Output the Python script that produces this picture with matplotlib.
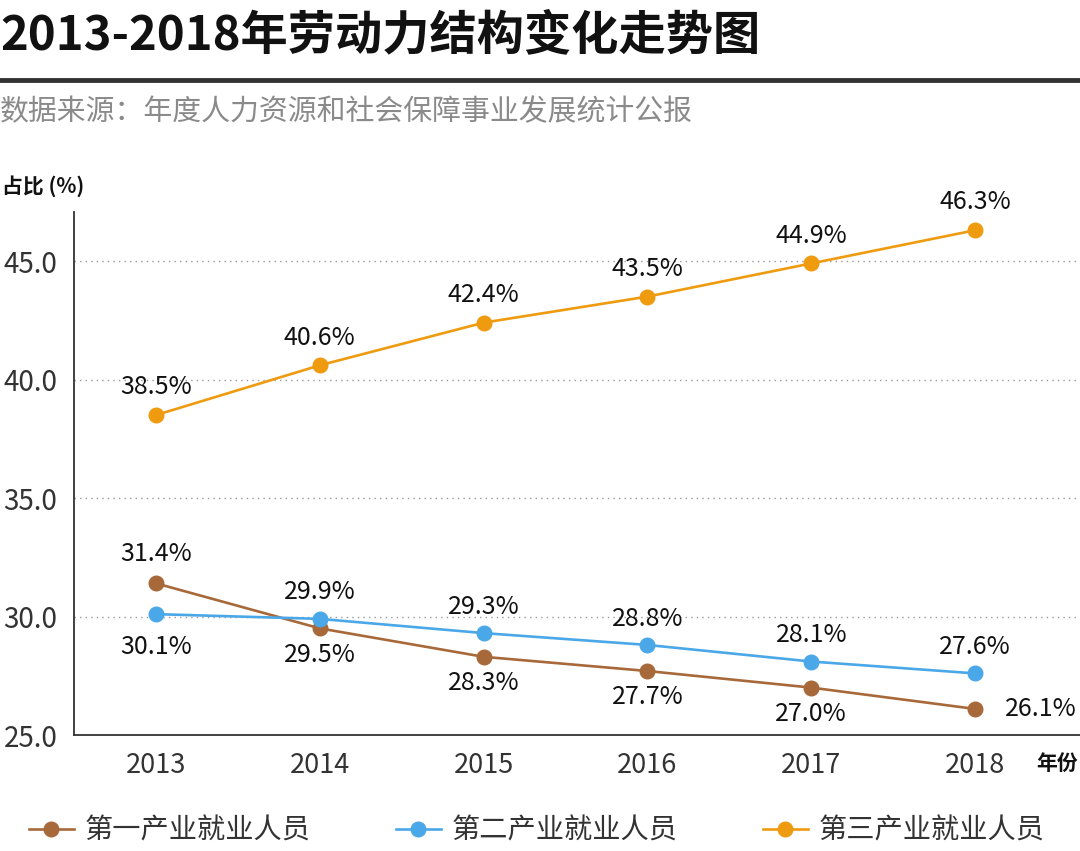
import matplotlib
matplotlib.use('Agg')
import matplotlib.pyplot as plt

plt.rcParams['font.family'] = ['Noto Sans CJK SC', 'DejaVu Sans']

# data
years = [2013, 2014, 2015, 2016, 2017, 2018]
primary = [31.4, 29.5, 28.3, 27.7, 27.0, 26.1]
secondary = [30.1, 29.9, 29.3, 28.8, 28.1, 27.6]
tertiary = [38.5, 40.6, 42.4, 43.5, 44.9, 46.3]
names = ['第一产业就业人员', '第二产业就业人员', '第三产业就业人员']
yticks = [25, 30, 35, 40, 45]

colors = ['#A8693A', '#4BA8E8', '#EF9B10']

fig = plt.figure(figsize=(10.8, 8.51), dpi=100)
ax = fig.add_axes([74 / 1080, 116 / 851, 1 - 74 / 1080, (735 - 212) / 851])

lines = []
for vals, c, n in zip([primary, secondary, tertiary], colors, names):
    ln, = ax.plot(years, vals, color=c, lw=1.9, marker='o', ms=10.5,
                  label=n, zorder=3)
    lines.append(ln)

# value labels
def label(x, y, dx, dy, ha='center'):
    ax.annotate(f'{y:.1f}%', (x, y), xytext=(dx, dy), textcoords='offset points',
                ha=ha, va='center', fontsize=18, color='#111111')

for i, (x, y) in enumerate(zip(years, tertiary)):
    label(x, y, 0, 20)
for i, (x, y) in enumerate(zip(years, primary)):
    if i == 0:
        label(x, y, 0, 21)
    elif i == len(years) - 1:
        label(x, y, 47, 0)
    else:
        label(x, y, 0, -19)
for i, (x, y) in enumerate(zip(years, secondary)):
    if i == 0:
        label(x, y, 0, -24)
    else:
        label(x, y, 0, 19)

ax.set_xlim(2012.5, 2018.64)
ax.set_ylim(25, 47.07)
ax.set_xticks(years)
ax.set_yticks(yticks)
ax.set_yticklabels([f'{v:.1f}' for v in yticks])
ax.tick_params(axis='x', length=0, labelsize=19.5, labelcolor='#333333', pad=12)
ax.tick_params(axis='y', length=0, labelsize=20, labelcolor='#333333', pad=12)
for v in yticks[1:]:
    ax.axhline(v, color='#999999', lw=1, ls=(0, (1, 3)), zorder=1)
ax.spines['top'].set_visible(False)
ax.spines['right'].set_visible(False)
for s in ['left', 'bottom']:
    ax.spines[s].set_color('#333333')
    ax.spines[s].set_linewidth(1.3)

# titles and annotations
fig.text(0.0, 1 - 35 / 851, '2013-2018年劳动力结构变化走势图', fontsize=34,
         fontweight='bold', va='center', ha='left', color='#111111')
fig.add_artist(plt.Line2D([0, 1], [1 - 80 / 851, 1 - 80 / 851], color='#333333', lw=3.5))
fig.text(0.0, 1 - 112 / 851, '数据来源：年度人力资源和社会保障事业发展统计公报', fontsize=20.8,
         va='center', ha='left', color='#8a8a8a')
fig.text(0.002, 1 - 186 / 851, '占比 (%)', fontsize=15, fontweight='bold',
         va='center', ha='left', color='#111111')
fig.text(1 - 2 / 1080, 1 - 763 / 851, '年份', fontsize=15, fontweight='bold',
         va='center', ha='right', color='#111111')

fig.legend(handles=lines, loc='center', bbox_to_anchor=(0.497, 1 - 831 / 851), ncol=3,
           frameon=False, fontsize=20.3, handlelength=1.6, handletextpad=0.4,
           columnspacing=3.0, labelcolor='#333333')

fig.savefig('out.png', dpi=100)
